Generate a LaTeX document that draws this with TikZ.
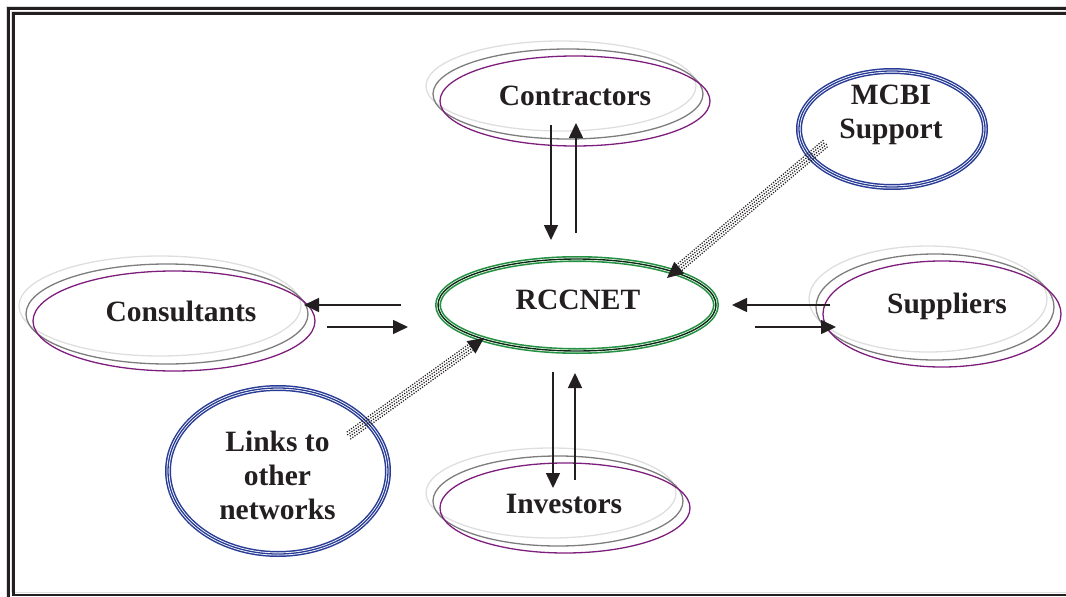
\documentclass[tikz,border=0pt]{standalone}
\usepackage{fontspec}
\setmainfont{Liberation Serif}
\usetikzlibrary{arrows.meta,calc}
\definecolor{purp}{RGB}{125,30,125}
\definecolor{grayA}{RGB}{125,125,125}
\definecolor{grayB}{RGB}{222,222,222}
\definecolor{bl}{RGB}{40,60,150}
\definecolor{gr}{RGB}{35,145,65}
\definecolor{txt}{RGB}{35,31,32}
\newcommand\trioval[4]{%
  \draw[grayB, line width=1.3pt] (#1-14,#2-15) ellipse [x radius=#3, y radius=#4];
  \draw[grayA, line width=1.3pt] (#1-7,#2-7) ellipse [x radius=#3, y radius=#4];
  \draw[purp, line width=1.3pt] (#1,#2) ellipse [x radius=#3, y radius=#4];}
\newcommand\blueoval[4]{%
  \draw[bl, line width=6pt] (#1,#2) ellipse [x radius=#3, y radius=#4];
  \draw[white, line width=3pt] (#1,#2) ellipse [x radius=#3, y radius=#4];
  \draw[bl, line width=1.3pt] (#1,#2) ellipse [x radius=#3, y radius=#4];}
\newcommand\bandarrow[2]{%
  \foreach \o/\ph in {-3.9/0, -1.3/1.3, 1.3/0, 3.9/1.3}{%
    \draw[txt, line width=1.2pt, dash pattern=on 1.2pt off 1.4pt, dash phase=\ph pt]
      ($(#1)!\o pt!90:(#2)$) -- ($($(#2)!12pt!(#1)$)!\o pt!-90:(#1)$);}
  \draw[line width=1pt, txt, -{Triangle[length=16pt,width=15pt]}] ($(#2)!16pt!(#1)$) -- (#2);}
\begin{document}
\begin{tikzpicture}[x=1pt,y=-1pt,
  lbl/.style={font=\fontsize{29.5}{34}\selectfont\bfseries, text=txt, align=center, inner sep=0pt},
  arr/.style={line width=1.6pt, draw=txt, -{Triangle[length=15pt,width=14pt]}},
  frame/.style={line width=2.4pt, draw=txt},
  shade/.style={line width=1pt, draw=grayB}]
\useasboundingbox (0,0) rectangle (1066,597);
% frame
\draw[shade] (6.5,600) -- (6.5,6.5) -- (1070,6.5);
\draw[frame] (8.5,600) -- (8.5,8.5) -- (1070,8.5);
\draw[shade] (11.5,592) -- (11.5,11.5) -- (1070,11.5);
\draw[frame] (13.5,594.5) -- (13.5,13.5) -- (1070,13.5);
\draw[frame] (12.3,595) -- (1070,595);
\draw[shade] (15,592.5) -- (1070,592.5);

% ovals
\trioval{575}{101}{135}{45}
\trioval{174}{321}{141}{50}
\trioval{942}{314}{119}{53}
\trioval{565}{508}{125}{45}
\blueoval{892}{129}{93}{58}
\blueoval{278}{471}{110}{83}
\draw[gr, line width=6pt] (577,305) ellipse [x radius=139, y radius=46];
\draw[white, line width=2.8pt] (577,305) ellipse [x radius=139, y radius=46];
\draw[black!70!gr, line width=1.4pt] (577,305) ellipse [x radius=139, y radius=46];

% labels
\node[lbl, anchor=base] (contr) at (575,105) {Contractors};
\node[lbl, anchor=base] (cons) at (181,321) {Consultants};
\node[lbl, anchor=base] (supp) at (947,313) {Suppliers};
\node[lbl, anchor=base] (inv) at (564,513) {Investors};
\node[lbl, anchor=base] (rcc) at (578,309) {RCCNET};
\node[lbl] (mcbi) at (891,115) {MCBI\\Support};
\node[lbl] (links) at (277.5,475) {Links to\\other\\networks};

% arrow end points
\coordinate (c1) at (551,125); \coordinate (c2) at (551,240);
\coordinate (c3) at (576,233); \coordinate (c4) at (576,123);
\coordinate (i1) at (553,372); \coordinate (i2) at (553,488);
\coordinate (i3) at (575,480); \coordinate (i4) at (575,373);
\coordinate (k1) at (401,305); \coordinate (k2) at (304,305);
\coordinate (k3) at (327,327); \coordinate (k4) at (408,327);
\coordinate (s1) at (830,305); \coordinate (s2) at (732,305);
\coordinate (s3) at (755,327); \coordinate (s4) at (836,327);
\coordinate (m1) at (826,143); \coordinate (m2) at (667,278);
\coordinate (l1) at (348,436); \coordinate (l2) at (484,338);

\draw[arr] (c1) -- (c2);
\draw[arr] (c3) -- (c4);
\draw[arr] (i1) -- (i2);
\draw[arr] (i3) -- (i4);
\draw[arr] (k1) -- (k2);
\draw[arr] (k3) -- (k4);
\draw[arr] (s1) -- (s2);
\draw[arr] (s3) -- (s4);
\bandarrow{m1}{m2}
\bandarrow{l1}{l2}
\end{tikzpicture}
\end{document}
